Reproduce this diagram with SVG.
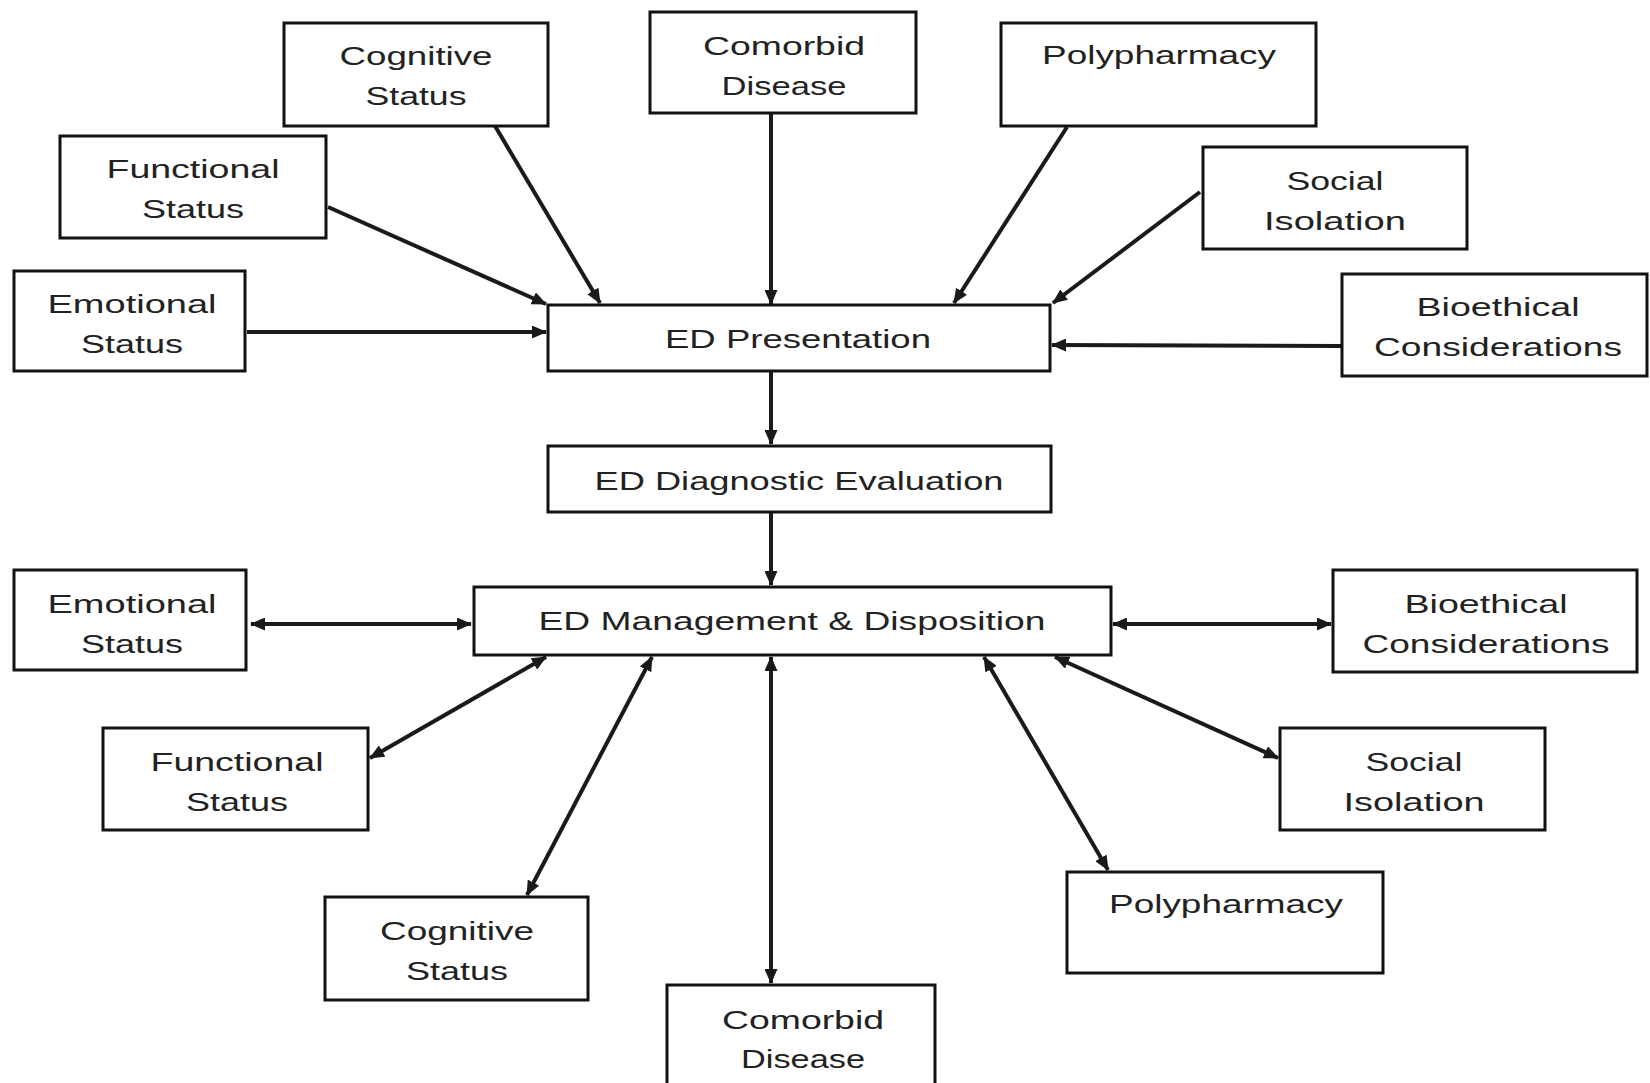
<svg xmlns="http://www.w3.org/2000/svg" width="1650" height="1083" viewBox="0 0 1650 1083">
<style>
.box{fill:#fff;stroke:#111;stroke-width:3}
.t{font-family:"Liberation Sans",Arial,sans-serif;font-size:26px;fill:#222;text-anchor:middle}
.c{stroke:#1a1a1a;stroke-width:4;fill:none;marker-end:url(#ah)}
.b{marker-start:url(#ah)}
</style>
<defs>
<marker id="ah" markerUnits="userSpaceOnUse" markerWidth="15" markerHeight="13" refX="14" refY="6.5" orient="auto-start-reverse">
<path d="M0,0 L15,6.5 L0,13 Z" fill="#1a1a1a"/>
</marker>
</defs>
<rect width="1650" height="1083" fill="#fff"/>
<g id="connectors">
<line class="c" x1="495" y1="126" x2="600" y2="303"/>
<line class="c" x1="328" y1="207" x2="546" y2="304"/>
<line class="c" x1="247" y1="332" x2="546" y2="332"/>
<line class="c" x1="771" y1="114" x2="771" y2="304"/>
<line class="c" x1="1067" y1="127" x2="954" y2="303"/>
<line class="c" x1="1200" y1="192" x2="1053" y2="303"/>
<line class="c" x1="1341" y1="346" x2="1052" y2="345"/>
<line class="c" x1="771" y1="371" x2="771" y2="444"/>
<line class="c" x1="771" y1="512" x2="771" y2="585"/>
<line class="c b" x1="251" y1="624" x2="471" y2="624"/>
<line class="c b" x1="1113" y1="624" x2="1331" y2="624"/>
<line class="c b" x1="370" y1="758" x2="546" y2="657"/>
<line class="c b" x1="527" y1="895" x2="652" y2="657"/>
<line class="c b" x1="771" y1="657" x2="771" y2="983"/>
<line class="c b" x1="984" y1="657" x2="1108" y2="870"/>
<line class="c b" x1="1055" y1="657" x2="1278" y2="758"/>
</g>
<g id="cognitive-top"><rect class="box" x="284" y="23" width="264" height="103"/><text class="t" x="416" y="65" textLength="153" lengthAdjust="spacingAndGlyphs">Cognitive</text><text class="t" x="416" y="105" textLength="101" lengthAdjust="spacingAndGlyphs">Status</text></g>
<g id="comorbid-top"><rect class="box" x="650" y="12" width="266" height="101"/><text class="t" x="784" y="55" textLength="162" lengthAdjust="spacingAndGlyphs">Comorbid</text><text class="t" x="784" y="95" textLength="125" lengthAdjust="spacingAndGlyphs">Disease</text></g>
<g id="polypharmacy-top"><rect class="box" x="1001" y="23" width="315" height="103"/><text class="t" x="1159" y="64" textLength="234" lengthAdjust="spacingAndGlyphs">Polypharmacy</text></g>
<g id="functional-top"><rect class="box" x="60" y="136" width="266" height="102"/><text class="t" x="193" y="178" textLength="173" lengthAdjust="spacingAndGlyphs">Functional</text><text class="t" x="193" y="218" textLength="102" lengthAdjust="spacingAndGlyphs">Status</text></g>
<g id="social-top"><rect class="box" x="1203" y="147" width="264" height="102"/><text class="t" x="1335" y="190" textLength="97" lengthAdjust="spacingAndGlyphs">Social</text><text class="t" x="1335" y="230" textLength="142" lengthAdjust="spacingAndGlyphs">Isolation</text></g>
<g id="emotional-top"><rect class="box" x="14" y="271" width="231" height="100"/><text class="t" x="132" y="313" textLength="169" lengthAdjust="spacingAndGlyphs">Emotional</text><text class="t" x="132" y="353" textLength="102" lengthAdjust="spacingAndGlyphs">Status</text></g>
<g id="bioethical-top"><rect class="box" x="1342" y="274" width="305" height="102"/><text class="t" x="1498" y="316" textLength="163" lengthAdjust="spacingAndGlyphs">Bioethical</text><text class="t" x="1498" y="356" textLength="248" lengthAdjust="spacingAndGlyphs">Considerations</text></g>
<g id="ed-presentation"><rect class="box" x="548" y="305" width="502" height="66"/><text class="t" x="798" y="348" textLength="266" lengthAdjust="spacingAndGlyphs">ED Presentation</text></g>
<g id="ed-diagnostic"><rect class="box" x="548" y="446" width="503" height="66"/><text class="t" x="799" y="490" textLength="409" lengthAdjust="spacingAndGlyphs">ED Diagnostic Evaluation</text></g>
<g id="ed-management"><rect class="box" x="474" y="587" width="637" height="68"/><text class="t" x="792" y="630" textLength="507" lengthAdjust="spacingAndGlyphs">ED Management &amp; Disposition</text></g>
<g id="emotional-bottom"><rect class="box" x="14" y="570" width="232" height="100"/><text class="t" x="132" y="613" textLength="169" lengthAdjust="spacingAndGlyphs">Emotional</text><text class="t" x="132" y="653" textLength="102" lengthAdjust="spacingAndGlyphs">Status</text></g>
<g id="bioethical-bottom"><rect class="box" x="1333" y="570" width="304" height="102"/><text class="t" x="1486" y="613" textLength="163" lengthAdjust="spacingAndGlyphs">Bioethical</text><text class="t" x="1486" y="653" textLength="247" lengthAdjust="spacingAndGlyphs">Considerations</text></g>
<g id="functional-bottom"><rect class="box" x="103" y="728" width="265" height="102"/><text class="t" x="237" y="771" textLength="173" lengthAdjust="spacingAndGlyphs">Functional</text><text class="t" x="237" y="811" textLength="102" lengthAdjust="spacingAndGlyphs">Status</text></g>
<g id="social-bottom"><rect class="box" x="1280" y="728" width="265" height="102"/><text class="t" x="1414" y="771" textLength="97" lengthAdjust="spacingAndGlyphs">Social</text><text class="t" x="1414" y="811" textLength="141" lengthAdjust="spacingAndGlyphs">Isolation</text></g>
<g id="cognitive-bottom"><rect class="box" x="325" y="897" width="263" height="103"/><text class="t" x="457" y="940" textLength="154" lengthAdjust="spacingAndGlyphs">Cognitive</text><text class="t" x="457" y="980" textLength="102" lengthAdjust="spacingAndGlyphs">Status</text></g>
<g id="polypharmacy-bottom"><rect class="box" x="1067" y="872" width="316" height="101"/><text class="t" x="1226" y="913" textLength="234" lengthAdjust="spacingAndGlyphs">Polypharmacy</text></g>
<g id="comorbid-bottom"><rect class="box" x="667" y="985" width="268" height="110"/><text class="t" x="803" y="1029" textLength="162" lengthAdjust="spacingAndGlyphs">Comorbid</text><text class="t" x="803" y="1068" textLength="124" lengthAdjust="spacingAndGlyphs">Disease</text></g>
</svg>
